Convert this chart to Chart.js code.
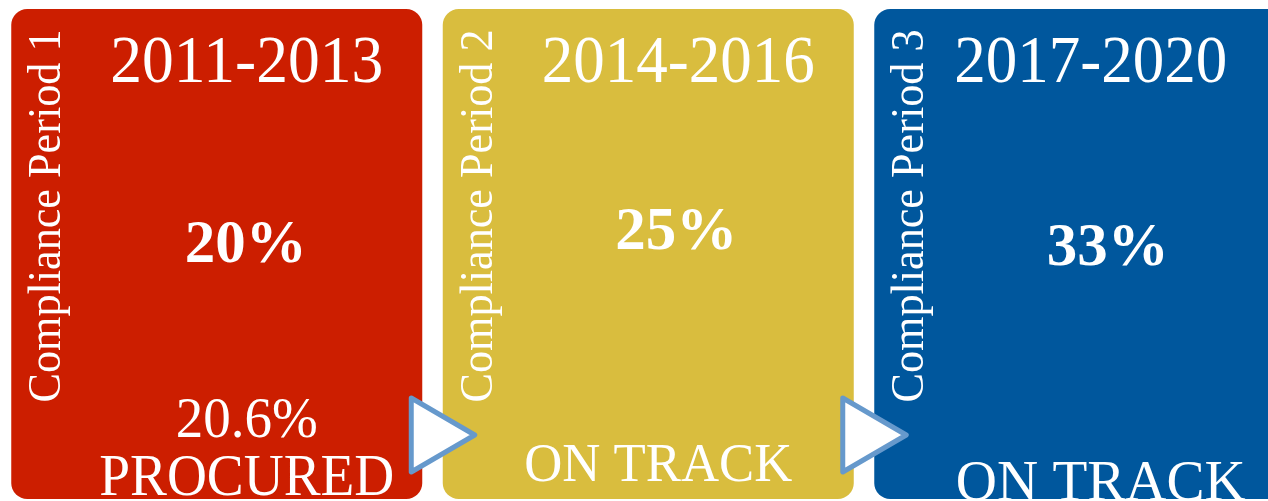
<!DOCTYPE html>
<html>
<head>
<meta charset="utf-8">
<script src="https://cdn.jsdelivr.net/npm/chart.js@4/dist/chart.umd.min.js"></script>
<style>
    html, body { margin: 0; padding: 0; background: #ffffff; overflow: hidden; }
    #wrap { width: 1268px; height: 501px; overflow: hidden; position: relative; }
    canvas { display: block; }
</style>
</head>
<body>
<div id="wrap"><canvas id="complianceChart" width="1300" height="501"></canvas></div>
<script>
// Chart data
const periods = ['Compliance Period 1', 'Compliance Period 2', 'Compliance Period 3'];
const years = ['2011-2013', '2014-2016', '2017-2020'];
const targets = [20, 25, 33];
const statusLines = [['20.6%', 'PROCURED'], ['ON TRACK'], ['ON TRACK']];
const panelHeights = [1, 1, 1];
const panelColors = ['#cc1e00', '#d9bd3e', '#00579d'];

const SERIF = '"Liberation Serif", "Times New Roman", serif';

// Per-panel text offsets (from bar centre) - the source is not perfectly regular
const yearShift = [30, 30, 11];
const targetShift = [29, 28, 28];
const targetBase = [262, 249, 265];
const statusShift = [30, 10, 21];

function drawText(ctx, txt, x, y, size, maxW, bold) {
    ctx.font = (bold ? 'bold ' : '') + size + 'px ' + SERIF;
    const w = ctx.measureText(txt).width;
    ctx.save();
    ctx.translate(x, y);
    if (w > maxW) ctx.scale(maxW / w, 1);
    ctx.fillText(txt, 0, 0);
    ctx.restore();
}

const panelText = {
    id: 'panelText',
    afterDatasetsDraw(chart) {
        const ctx = chart.ctx;
        const bars = chart.getDatasetMeta(0).data;
        ctx.save();
        ctx.fillStyle = '#ffffff';
        ctx.textAlign = 'center';
        ctx.textBaseline = 'alphabetic';

        bars.forEach((bar, i) => {
            const left = bar.x - bar.width / 2;

            // rotated period label
            ctx.save();
            ctx.translate(left + 49, 216);
            ctx.rotate(-Math.PI / 2);
            drawText(ctx, periods[i], 0, 0, 47, 373, false);
            ctx.restore();

            drawText(ctx, years[i], bar.x + yearShift[i], 82, 68, 273, false);
            drawText(ctx, targets[i] + '%', bar.x + targetShift[i], targetBase[i], 62, 122, true);

            const lines = statusLines[i];
            if (lines.length === 2) {
                drawText(ctx, lines[0], bar.x + statusShift[i], 437, 58, 142, false);
                drawText(ctx, lines[1], bar.x + statusShift[i], 495, 60, 295, false);
            } else if (i === 1) {
                drawText(ctx, lines[0], bar.x + statusShift[i], 481, 54, 268, false);
            } else {
                drawText(ctx, lines[0], bar.x + statusShift[i], 500, 58, 290, false);
            }
        });
        ctx.restore();
    },
    afterDraw(chart) {
        // arrows between panels
        const ctx = chart.ctx;
        const bars = chart.getDatasetMeta(0).data;
        const midY = chart.chartArea.bottom - 64;
        ctx.save();
        ctx.lineWidth = 5;
        ctx.lineJoin = 'round';
        ctx.strokeStyle = '#6699cc';
        ctx.fillStyle = '#ffffff';
        for (let i = 0; i < bars.length - 1; i++) {
            const rightEdge = bars[i].x + bars[i].width / 2;
            const nextLeft = bars[i + 1].x - bars[i + 1].width / 2;
            const x0 = rightEdge - 11;
            const tip = nextLeft + 32;
            ctx.beginPath();
            ctx.moveTo(x0, midY - 37);
            ctx.lineTo(tip, midY);
            ctx.lineTo(x0, midY + 37);
            ctx.closePath();
            ctx.fill();
            ctx.stroke();
        }
        ctx.restore();
    }
};

const ctx = document.getElementById('complianceChart').getContext('2d');
const complianceChart = new Chart(ctx, {
    type: 'bar',
    data: {
        labels: years,
        datasets: [{
            data: panelHeights,
            backgroundColor: panelColors,
            borderWidth: 0,
            borderRadius: 16,
            borderSkipped: false,
            barPercentage: 411 / 431.5,
            categoryPercentage: 1
        }]
    },
    options: {
        responsive: false,
        animation: false,
        devicePixelRatio: 1,
        layout: {
            padding: { left: 1, right: 4.5, top: 9, bottom: 2 }
        },
        plugins: {
            legend: { display: false },
            tooltip: { enabled: false }
        },
        scales: {
            x: { display: false, grid: { display: false } },
            y: { display: false, min: 0, max: 1, grid: { display: false } }
        }
    },
    plugins: [panelText]
});
</script>
</body>
</html>
